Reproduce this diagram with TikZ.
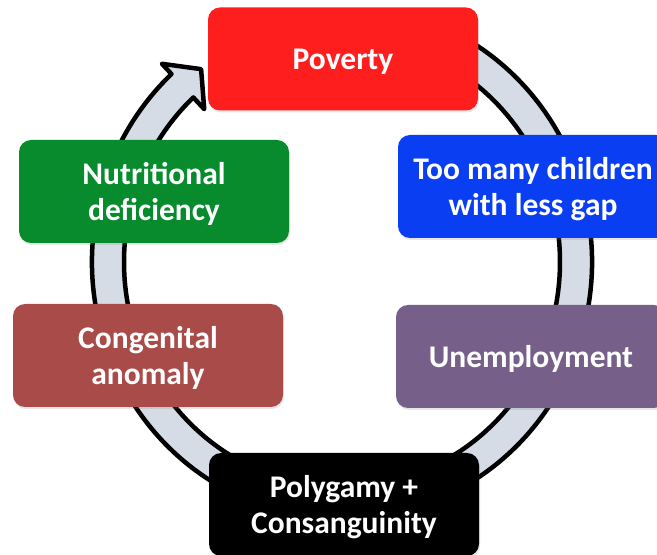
\documentclass[tikz,border=0pt]{standalone}
\usepackage{fontspec}
\setmainfont{Carlito}
\usepackage{tikz}
\usetikzlibrary{positioning,calc,shadows}

\definecolor{povred}{HTML}{FF1E1E}
\definecolor{kidblue}{HTML}{0A3EF2}
\definecolor{jobpurple}{HTML}{76608A}
\definecolor{congbrown}{HTML}{A94B48}
\definecolor{nutgreen}{HTML}{078B2D}
\definecolor{ringfill}{HTML}{D5DCE6}

\begin{document}
\begin{tikzpicture}[x=1pt,y=1pt,node distance=150pt,on grid]
    \tikzset{causebox/.style={rectangle,rounded corners=12pt,minimum width=270pt,minimum height=103pt,inner sep=0pt,text depth=-3pt,align=center,text=white,font=\fontsize{31.5}{36}\selectfont\bfseries,drop shadow={opacity=0.2,shadow xshift=1pt,shadow yshift=-2pt}}}
    \useasboundingbox (0,0) rectangle (657,555);
    \clip (0,0) rectangle (657,555);
    \coordinate (c) at (342,293);
    % the cycle arrow behind the boxes
    \filldraw[fill=ringfill,draw=black,line width=4.5pt,line join=round]
      ($(c)+(70:250 and 257)$) arc[start angle=70,end angle=-227,x radius=250,y radius=257]
      -- ($(c)+(133:264 and 271)$)
      -- ($(c)+(133:233 and 240)+(43.9:25)$)
      -- ($(c)+(133:202 and 209)$)
      -- ($(c)+(133:218 and 225)$)
      arc[start angle=133,end angle=430,x radius=218,y radius=225]
      -- cycle;
    \node[causebox,fill=povred] (pov) at (343,496) {Poverty};
    \node[causebox,fill=kidblue] (kids) [below right = 127.5pt and 190pt of pov] {Too many children\\with less gap};
    \node[causebox,fill=jobpurple] (unemp) [below left = 170pt and 2pt of kids] {Unemployment};
    \node[causebox,fill=black] (poly) [below left = 148pt and 187pt of unemp] {Polygamy +\\Consanguinity};
    \node[causebox,fill=congbrown] (cong) [above left = 149pt and 196pt of poly] {Congenital\\anomaly};
    \node[causebox,fill=nutgreen] (nutr) [above right = 164pt and 6pt of cong] {Nutritional\\deficiency};
\end{tikzpicture}
\end{document}
